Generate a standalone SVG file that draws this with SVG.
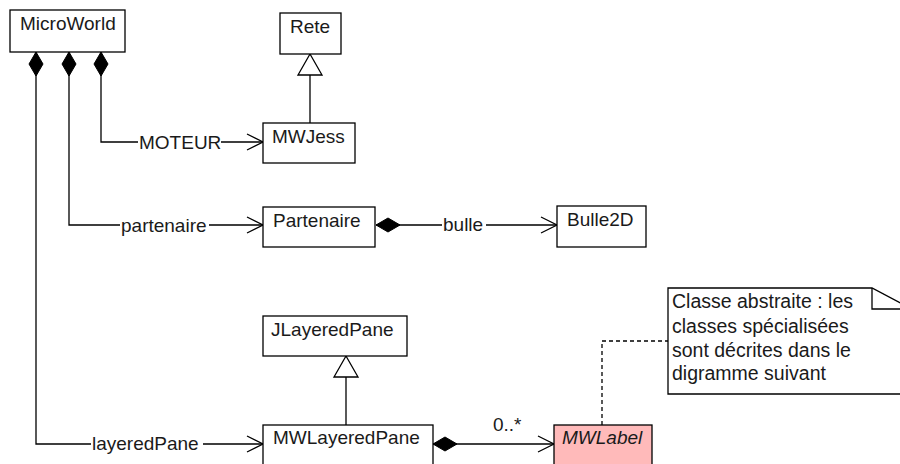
<svg xmlns="http://www.w3.org/2000/svg" width="900" height="464" viewBox="0 0 900 464">
<style>
  .box{fill:#fff;stroke:#000;stroke-width:1.3}
  .abs{fill:#ffbaba;stroke:#000;stroke-width:1.3}
  .t{font-family:"Liberation Sans",Arial,sans-serif;font-size:19px;fill:#1a1a1a}
  .it{font-style:italic}
  .note{font-size:19.5px}
  .ln{fill:none;stroke:#000;stroke-width:1.3}
  .dash{fill:none;stroke:#000;stroke-width:1.3;stroke-dasharray:4 3}
</style>
<defs>
  <marker id="open" viewBox="-18 -10 20 20" refX="0" refY="0" markerWidth="20" markerHeight="20" orient="auto" markerUnits="userSpaceOnUse">
    <path d="M-16,-8 L0,0 L-16,8" fill="none" stroke="#000" stroke-width="1.3"/>
  </marker>
  <marker id="comp" viewBox="-2 -9 28 18" refX="0" refY="0" markerWidth="28" markerHeight="18" orient="auto" markerUnits="userSpaceOnUse">
    <path d="M0,0 L12,-7 L24,0 L12,7 Z" fill="#000" stroke="#000" stroke-width="1"/>
  </marker>
  <marker id="gen" viewBox="-24 -14 26 28" refX="0" refY="0" markerWidth="26" markerHeight="28" orient="auto" markerUnits="userSpaceOnUse">
    <path d="M0,0 L-21,-12 L-21,12 Z" fill="#fff" stroke="#000" stroke-width="1.3"/>
  </marker>
</defs>
<rect width="900" height="464" fill="#fff"/>

<g id="connectors">
  <path class="ln" d="M101,52 V142 H138 M221,142 H263" marker-start="url(#comp)" marker-end="url(#open)"/>
  <path class="ln" d="M69,52 V225 H120 M209,225 H263" marker-start="url(#comp)" marker-end="url(#open)"/>
  <path class="ln" d="M36,52 V444 H91 M203,444 H263" marker-start="url(#comp)" marker-end="url(#open)"/>
  <path class="ln" d="M376,225 H442 M486,225 H557" marker-start="url(#comp)" marker-end="url(#open)"/>
  <path class="ln" d="M433,444 H554" marker-start="url(#comp)" marker-end="url(#open)"/>
  <path class="ln" d="M310,123 V54" marker-end="url(#gen)"/>
  <path class="ln" d="M346,425 V356" marker-end="url(#gen)"/>
  <path class="dash" d="M602,425 V341 H668"/>
  <text class="t" x="139" y="149">MOTEUR</text>
  <text class="t" x="121" y="232">partenaire</text>
  <text class="t" x="92" y="450">layeredPane</text>
  <text class="t" x="443" y="231">bulle</text>
  <text class="t" x="493" y="431">0..*</text>
</g>

<g id="MicroWorld">
  <rect class="box" x="10" y="10" width="115" height="42"/>
  <text class="t" x="20" y="30">MicroWorld</text>
</g>
<g id="Rete">
  <rect class="box" x="280" y="13" width="61" height="41"/>
  <text class="t" x="290" y="33">Rete</text>
</g>
<g id="MWJess">
  <rect class="box" x="263" y="123" width="92" height="40"/>
  <text class="t" x="272" y="143">MWJess</text>
</g>
<g id="Partenaire">
  <rect class="box" x="263" y="207" width="112" height="40"/>
  <text class="t" x="273" y="227">Partenaire</text>
</g>
<g id="Bulle2D">
  <rect class="box" x="557" y="206" width="89" height="41"/>
  <text class="t" x="567" y="226">Bulle2D</text>
</g>
<g id="JLayeredPane">
  <rect class="box" x="263" y="316" width="144" height="40"/>
  <text class="t" x="271" y="336">JLayeredPane</text>
</g>
<g id="MWLayeredPane">
  <rect class="box" x="263" y="425" width="170" height="50"/>
  <text class="t" x="273" y="444">MWLayeredPane</text>
</g>
<g id="MWLabel">
  <rect class="abs" x="554" y="425" width="98" height="50"/>
  <text class="t it" x="562" y="444">MWLabel</text>
</g>
<g id="Note">
  <path class="box" d="M668,288 H872 L912,309 V394 H668 Z"/>
  <path class="ln" d="M872,288 V309 H912"/>
  <text class="t note" x="672" y="308">Classe abstraite : les</text>
  <text class="t note" x="672" y="333">classes spécialisées</text>
  <text class="t note" x="672" y="357">sont décrites dans le</text>
  <text class="t note" x="672" y="380">digramme suivant</text>
</g>
</svg>
